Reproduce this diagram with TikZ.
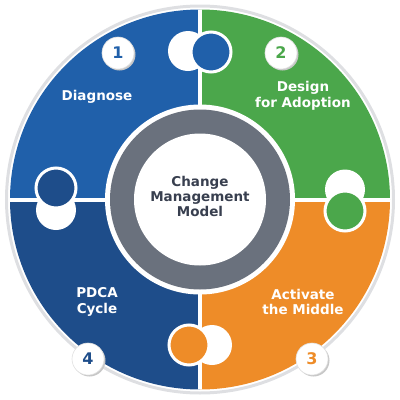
\documentclass[tikz,border=0pt]{standalone}
\usepackage{fontspec}
\setmainfont{DejaVu Sans}
\definecolor{qone}{HTML}{2060AA}
\definecolor{qtwo}{HTML}{4BA74B}
\definecolor{qthree}{HTML}{EE8C28}
\definecolor{qfour}{HTML}{1E4D8A}
\definecolor{ringgray}{HTML}{6A717D}
\definecolor{rimgray}{HTML}{DEDFE2}
\definecolor{centertext}{HTML}{383F4F}
\tikzset{
  label/.style={text=white, font=\fontsize{13.5}{15.5}\selectfont\bfseries, align=center, inner sep=0pt},
  badge/.style={circle, fill=white, draw=black!12, line width=0.6pt, minimum size=32pt, inner sep=0pt,
                font=\fontsize{16}{16}\selectfont\bfseries},
  badgeshadow/.style={circle, fill=black!22, minimum size=32pt, inner sep=0pt},
  hole/.style={fill=white},
  knob/.style={draw=white, line width=3pt}
}
\begin{document}
\begin{tikzpicture}[x=1pt,y=-1pt]
\useasboundingbox (0,0) rectangle (400,400);
\coordinate (C) at (200,199.5);
% outer rim
\draw[rimgray, line width=3pt] (C) circle (193.5);
% quadrants
\begin{scope}
  \clip (C) circle (190);
  \fill[qone] (0,0) rectangle (200,199.5);
  \fill[qtwo] (200,0) rectangle (400,199.5);
  \fill[qthree] (200,199.5) rectangle (400,400);
  \fill[qfour] (0,199.5) rectangle (200,400);
  \draw[white, line width=4pt] (200,0) -- (200,400);
  \draw[white, line width=4pt] (0,199.5) -- (400,199.5);
\end{scope}
% holes
\fill[hole] (188,51) circle (20);
\fill[hole] (345,189.5) circle (20);
\fill[hole] (212,345) circle (20);
\fill[hole] (56,210) circle (20);
% knobs
\filldraw[knob, fill=qone] (211,52) circle (20);
\filldraw[knob, fill=qtwo] (345,211) circle (20);
\filldraw[knob, fill=qthree] (189,345) circle (20);
\filldraw[knob, fill=qfour] (56,188) circle (20);
% center
\fill[white] (C) circle (95);
\fill[ringgray] (C) circle (90);
\fill[white] (C) circle (66);
\node[text=centertext, font=\fontsize{13.5}{15}\selectfont\bfseries, align=center] (center) at (200,196) {Change\\Management\\Model};
% labels
\node[label] (l1) at (97,97) {Diagnose};
\node[label] (l2) at (303,96) {Design\\for Adoption};
\node[label] (l3) at (303,302) {Activate\\the Middle};
\node[label] (l4) at (97,302) {PDCA\\Cycle};
% badges
\node[badgeshadow] (s1) at (119.5,54.5) {};
\node[badge, text=qone] (b1) at (118,53) {1};
\node[badgeshadow] (s2) at (282.5,54.5) {};
\node[badge, text=qtwo] (b2) at (281,53) {2};
\node[badgeshadow] (s3) at (313.5,360.5) {};
\node[badge, text=qthree] (b3) at (312,359) {3};
\node[badgeshadow] (s4) at (89.5,360.5) {};
\node[badge, text=qfour] (b4) at (88,359) {4};
\end{tikzpicture}
\end{document}
